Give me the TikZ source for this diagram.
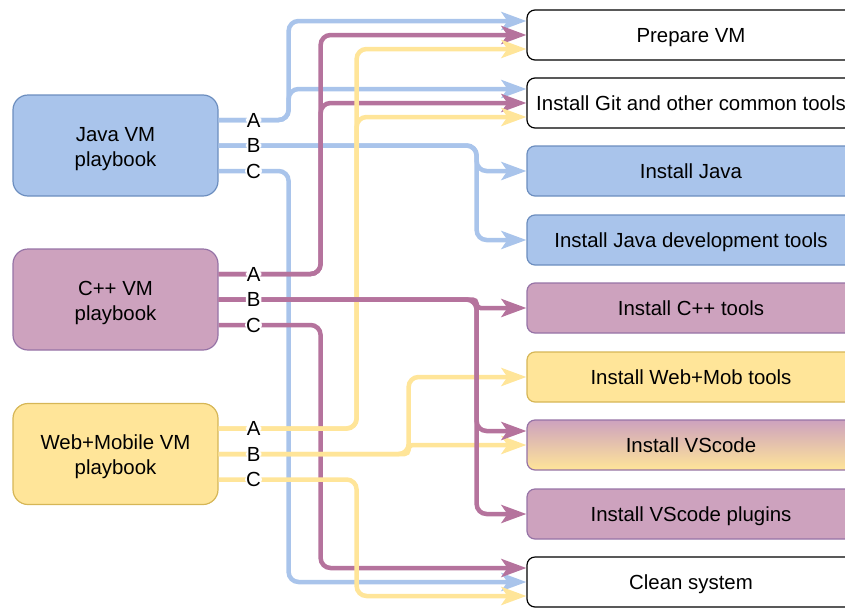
\documentclass[tikz,border=0pt]{standalone}
\usepackage{fontspec}
\setmainfont{Liberation Sans}
\usepackage{xcolor}
\usetikzlibrary{arrows.meta}
\usetikzlibrary{positioning}

\definecolor{jfill}{HTML}{A9C4EB}
\definecolor{jline}{HTML}{6C8EBF}
\definecolor{cfill}{HTML}{CDA2BE}
\definecolor{cline}{HTML}{9673A6}
\definecolor{cwire}{HTML}{B5739D}
\definecolor{wfill}{HTML}{FFE599}
\definecolor{wline}{HTML}{D6B656}

\begin{document}
\begin{tikzpicture}[x=1pt,y=-1pt,
  font=\fontsize{20.4}{25}\selectfont,
  book/.style={draw,rounded corners=15pt,minimum width=205pt,minimum height=101pt,align=center,line width=1.2pt},
  task/.style={draw,rounded corners=8pt,minimum width=328pt,minimum height=50pt,line width=1.2pt,text height=20pt,text depth=4.5pt},
  wire/.style={line width=4.5pt,rounded corners=10pt,-{Stealth[length=25pt,width=18pt,inset=6pt]}},
  lbl/.style={fill=white,text=black,inner sep=1pt}]
\useasboundingbox (0,0) rectangle (845,608);
\clip (0,0) rectangle (845,608);

% playbooks
\node[book,fill=jfill,draw=jline] (java) at (115.5,145.5) {\rule{0pt}{21pt}Java VM\\playbook};
\node[book,fill=cfill,draw=cline] (cpp) at (115.5,299.5) {\rule{0pt}{21pt}C++ VM\\playbook};
\node[book,fill=wfill,draw=wline] (web) at (115.5,454) {\rule{0pt}{21pt}Web+Mobile VM\\playbook};

% tasks
\node[task] (prep) at (691,35) {Prepare VM};
\node[task] (git) at (691,103) {Install Git and other common tools};
\node[task,fill=jfill,draw=jline] (jre) at (691,171) {Install Java};
\node[task,fill=jfill,draw=jline] (jdev) at (691,240) {Install Java development tools};
\node[task,fill=cfill,draw=cline] (cpptools) at (691,308) {Install C++ tools};
\node[task,fill=wfill,draw=wline] (webmob) at (691,377) {Install Web+Mob tools};
\node[task,draw=cline,top color=cfill,bottom color=wfill] (vscode) at (691,445) {Install VScode};
\node[task,fill=cfill,draw=cline] (plugins) at (691,514) {Install VScode plugins};
\node[task] (clean) at (691,582) {Clean system};

% Java
\draw[wire,jfill] ([yshift=25.5pt]java.east) -- ++(70,0) |- ([yshift=14pt]git.west);
\draw[wire,jfill] ([yshift=25.5pt]java.east) -- node[lbl]{A} ++(70,0) |- ([yshift=14pt]prep.west);
\draw[wire,jfill] (java.east) -- ++(70,0) -- ++(188,0) |- (jdev.west);
\draw[wire,jfill] (java.east) -- node[lbl]{B} ++(70,0) -- ++(188,0) |- (jre.west);
\draw[wire,jfill] ([yshift=-25.5pt]java.east) -- node[lbl]{C} ++(70,0) |- (clean.west);

% C++
\draw[wire,cwire] ([yshift=25.5pt]cpp.east) -- ++(70,0) -- ++(32,0) |- (git.west);
\draw[wire,cwire] ([yshift=25.5pt]cpp.east) -- node[lbl]{A} ++(70,0) -- ++(32,0) |- (prep.west);
\draw[wire,cwire] ([yshift=-25.5pt]cpp.east) -- node[lbl]{C} ++(70,0) -- ++(32,0) |- ([yshift=14pt]clean.west);

% Web+Mobile
\draw[wire,wfill] ([yshift=25.5pt]web.east) -- ++(70,0) -- ++(68,0) |- ([yshift=-14pt]git.west);
\draw[wire,wfill] ([yshift=25.5pt]web.east) -- node[lbl]{A} ++(70,0) -- ++(68,0) |- ([yshift=-14pt]prep.west);
\draw[wire,wfill,rounded corners=4pt] (web.east) -- ++(70,0) -- ++(120,0) |- (vscode.west);
\draw[wire,wfill] (web.east) -- node[lbl]{B} ++(70,0) -- ++(120,0) |- (webmob.west);
\draw[wire,wfill] ([yshift=-25.5pt]web.east) -- node[lbl]{C} ++(70,0) -- ++(68,0) |- ([yshift=-14pt]clean.west);

% C++ B last
\draw[wire,cwire] (cpp.east) -- ++(70,0) -- ++(188,0) |- (plugins.west);
\draw[wire,cwire] (cpp.east) -- ++(70,0) -- ++(188,0) |- ([yshift=14pt]vscode.west);
\draw[wire,cwire,rounded corners=4pt] (cpp.east) -- node[lbl]{B} ++(70,0) -- ++(188,0) |- (cpptools.west);
\end{tikzpicture}
\end{document}
